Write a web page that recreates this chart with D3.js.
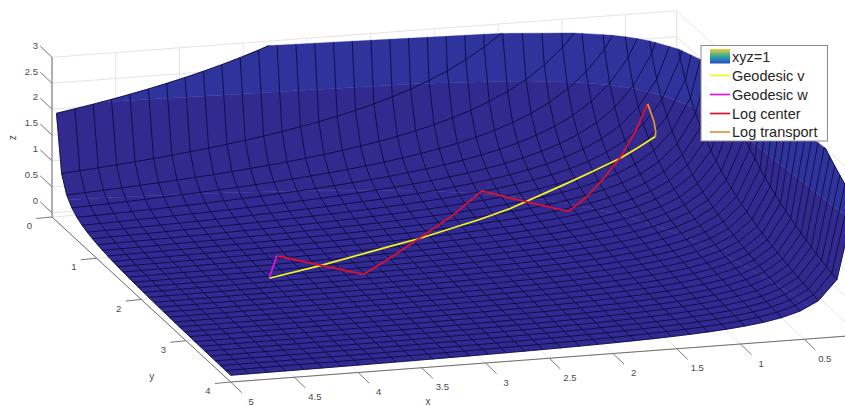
<!DOCTYPE html>
<html><head><meta charset="utf-8">
<script src="https://cdn.jsdelivr.net/npm/d3@7/dist/d3.min.js"></script>
<style>html,body{margin:0;padding:0;background:#fff;overflow:hidden}svg{display:block;font-family:"Liberation Sans",Arial,sans-serif}</style>
</head><body><svg id="c" width="845" height="406"></svg>
<script>
const xGrid=[.1,.244,.388,.532,.676,.821,.965,1.109,1.253,1.397,1.541,1.685,1.829,1.974,2.118,2.262,2.406,2.55,2.694,2.838,2.982,3.126,3.271,3.415,3.559,3.703,3.847,3.991,4.135,4.279,4.424,4.568,4.712,4.856,5];
const yGrid=[.1,.215,.329,.444,.559,.674,.788,.903,1.018,1.132,1.247,1.362,1.476,1.591,1.706,1.821,1.935,2.05,2.165,2.279,2.394,2.509,2.624,2.738,2.853,2.968,3.082,3.197,3.312,3.426,3.541,3.656,3.771,3.885,4];
const xTicks=[5,4.5,4,3.5,3,2.5,2,1.5,1,0.5];
const yTicks=[0,1,2,3,4];
const zTicks=[0,0.5,1,1.5,2,2.5,3];
const xLim=[5,0.1], yLim=[0,4], zLim=[-0.08,3];
const zBands=[[-1,0.55,"#302a92"],[0.55,2.15,"#332a90"],[2.15,3,"#2f339c"]];
const geodesicV=[[3.989,1.976,.125],[3.532,1.815,.156],[2.958,1.593,.212],[2.631,1.483,.256],[2.092,1.29,.37],[1.825,1.199,.457],[1.382,1.054,.686],[1.106,1.013,.9],[.893,1.004,1.1],[.767,1.017,1.28],[.636,1.054,1.51]];
const geodesicW=[[3.989,1.976,.125],[3.776,1.541,.172]];
const logCenter=[[3.776,1.541,.172],[3.283,2.073,.147],[2.999,1.816,.183],[2.608,1.455,.262],[2.257,1.16,.381],[1.941,.896,.575],[1.775,1.055,.533],[1.44,1.407,.494],[1.246,1.265,.634],[1.066,1.123,.835],[.893,1.004,1.115],[.738,.897,1.5],[.614,.82,1.95]];
const logTransport=[[.614,.82,1.95],[.615,.957,1.74],[.619,1.014,1.58],[.636,1.054,1.51]];
const legendNames=["xyz=1","Geodesic v","Geodesic w","Log center","Log transport"];
const lineColors=["#f6f61e","#e414e4","#e0102e","#dc963e"];

const sxX=d3.scaleLinear().domain([5,0]).range([0,637.3]);
const syX=d3.scaleLinear().domain([5,0]).range([0,-47.5]);
const sxY=d3.scaleLinear().domain([0,4]).range([52,230.7]);
const syY=d3.scaleLinear().domain([0,4]).range([217,382]);
const syZ=d3.scaleLinear().domain(zLim).range([0,-159.7]);
const P=([x,y,z])=>[sxX(x)+sxY(y),syX(x)+syY(y)+syZ(z)];
const lineGen=d3.line();
const svg=d3.select("#c");

/* axes planes */
const [xa,xb]=xLim,[ya,yb]=yLim,[za,zb]=zLim;
const gridSegs=[];
zTicks.forEach(z=>{gridSegs.push([[xa,ya,z],[xb,ya,z]],[[xb,ya,z],[xb,yb,z]]);});
xTicks.forEach(x=>{gridSegs.push([[x,ya,za],[x,ya,zb]],[[x,ya,za],[x,yb,za]]);});
yTicks.forEach(y=>{gridSegs.push([[xb,y,za],[xb,y,zb]],[[xa,y,za],[xb,y,za]]);});
gridSegs.push([[xb,ya,za],[xb,ya,zb]]);
svg.append("g").selectAll("path").data(gridSegs).join("path")
  .attr("d",s=>lineGen(s.map(P))).attr("fill","none").attr("stroke","#e4e4e4").attr("stroke-width",1);

/* surface */
const zOf=(x,y)=>1/(x*y);
function clip(poly,keep,t){
  const out=[];
  poly.forEach((a,i)=>{const b=poly[(i+1)%poly.length];
    const ka=keep(a[2]),kb=keep(b[2]);
    if(ka)out.push(a);
    if(ka!==kb){const f=(t-a[2])/(b[2]-a[2]);out.push([a[0]+f*(b[0]-a[0]),a[1]+f*(b[1]-a[1]),t]);}
  });
  return out;
}
const bandPaths=zBands.map(()=>"");
for(let i=0;i<xGrid.length-1;i++)for(let j=0;j<yGrid.length-1;j++){
  const q=[[xGrid[i],yGrid[j]],[xGrid[i+1],yGrid[j]],[xGrid[i+1],yGrid[j+1]],[xGrid[i],yGrid[j+1]]].map(([x,y])=>[x,y,zOf(x,y)]);
  zBands.forEach((b,k)=>{
    let p=clip(q,z=>z<=b[1],b[1]);
    if(p.length)p=clip(p,z=>z>=b[0],b[0]);
    if(p.length>2)bandPaths[k]+=lineGen(p.map(P))+"Z";
  });
}
svg.append("g").selectAll("path").data(zBands).join("path")
  .attr("d",(d,i)=>bandPaths[i]).attr("fill",d=>d[2]).attr("stroke",d=>d[2]).attr("stroke-width",0.4);

/* mesh */
function clipLine(pts){
  const out=[];let cur=[];
  for(let i=0;i<pts.length-1;i++){
    let a=pts[i],b=pts[i+1];
    if(a[2]>3&&b[2]>3)continue;
    if(a[2]>3){const f=(3-a[2])/(b[2]-a[2]);a=[a[0]+f*(b[0]-a[0]),a[1]+f*(b[1]-a[1]),3];}
    if(b[2]>3){const f=(3-a[2])/(b[2]-a[2]);b=[a[0]+f*(b[0]-a[0]),a[1]+f*(b[1]-a[1]),3];}
    if(!cur.length)cur.push(a);cur.push(b);
  }
  if(cur.length)out.push(cur);
  return out;
}
const mesh=[];
xGrid.forEach(x=>mesh.push(...clipLine(yGrid.map(y=>[x,y,zOf(x,y)]))));
yGrid.forEach(y=>mesh.push(...clipLine(xGrid.map(x=>[x,y,zOf(x,y)]))));
svg.append("g").selectAll("path").data(mesh).join("path")
  .attr("d",s=>lineGen(s.map(P))).attr("fill","none").attr("stroke","#0a0a3a").attr("stroke-width",0.85);

/* curves */
[geodesicV,geodesicW,logCenter,logTransport].forEach((s,i)=>{
  svg.append("path").attr("d",lineGen(s.map(P))).attr("fill","none").attr("stroke",lineColors[i])
    .attr("stroke-width",1.7).attr("stroke-linejoin","round");
});

/* axis lines & ticks */
const axisSegs=[[[xa,ya,za],[xa,ya,zb]],[[xa,ya,za],[xa,yb,za]],[[xa,yb,za],[xb,yb,za]]];
svg.append("g").selectAll("path").data(axisSegs).join("path")
  .attr("d",s=>lineGen(s.map(P))).attr("fill","none").attr("stroke","#6e6e6e").attr("stroke-width",1);
function ticks(vals,toPt,dx,dy,lx,ly,anchor){
  const g=svg.append("g");
  vals.forEach(v=>{
    const [px,py]=P(toPt(v));
    g.append("line").attr("x1",px).attr("y1",py).attr("x2",px+dx).attr("y2",py+dy).attr("stroke","#777").attr("stroke-width",1);
    g.append("text").attr("x",px+lx).attr("y",py+ly).attr("text-anchor",anchor).attr("dy","0.35em")
      .attr("font-size",9.5).attr("fill","#4a4a4a").text(v);
  });
}
ticks(zTicks,z=>[xa,ya,z],-11.7,-11,-14,-12,"end");
ticks(yTicks,y=>[xa,y,za],-15.7,1.5,-22.7,8.7,"middle");
ticks(xTicks,x=>[x,yb,za],11,10.7,20.5,19.2,"middle");
const title=(t,x,y,r)=>svg.append("text").attr("transform",`translate(${x},${y}) rotate(${r})`).attr("text-anchor","middle").attr("dy","0.35em").attr("font-size",10).attr("fill","#4a4a4a").text(t);
title("x",428,401,0);title("y",151.7,376.7,0);title("z",12.3,137.7,-90);

/* legend */
const defs=svg.append("defs");
const gr=defs.append("linearGradient").attr("id","par").attr("x1",0).attr("x2",0).attr("y1",0).attr("y2",1);
[[0,"#f0cc30"],[.5,"#2fa8a0"],[1,"#1f4cc4"]].forEach(([o,c])=>gr.append("stop").attr("offset",o).attr("stop-color",c));
const lg=svg.append("g");
lg.append("rect").attr("x",701).attr("y",45.5).attr("width",126.5).attr("height",95.5).attr("fill","#fff").attr("stroke","#8a8a8a").attr("stroke-width",1);
lg.append("rect").attr("x",710).attr("y",49).attr("width",20).attr("height",14.5).attr("fill","url(#par)");
const rowY=[57,75.5,94.5,113.5,132];
legendNames.forEach((n,i)=>{
  lg.append("text").attr("x",732).attr("y",rowY[i]).attr("dy","0.35em").attr("font-size",14.5).attr("fill","#262626").text(n);
  if(i>0)lg.append("line").attr("x1",710).attr("x2",730).attr("y1",rowY[i]).attr("y2",rowY[i]).attr("stroke",lineColors[i-1]).attr("stroke-width",1.7);
});
</script></body></html>
